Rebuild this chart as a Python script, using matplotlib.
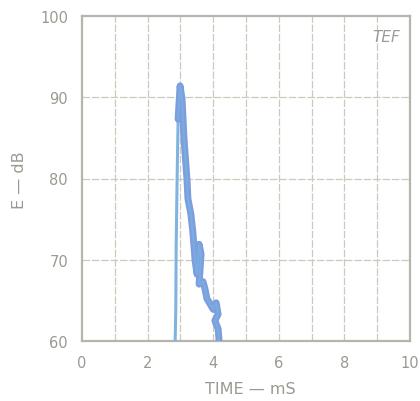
import matplotlib
matplotlib.use("Agg")
import matplotlib.pyplot as plt
import numpy as np

# Energy-time curve
time_ms = [2.84, 2.86, 2.87, 2.90, 2.93, 2.99, 3.05, 3.11, 3.20, 3.23, 3.32, 3.38, 3.45,
           3.51, 3.57, 3.63, 3.57, 3.69, 3.75, 3.81, 3.90, 4.00, 4.09, 4.15, 4.05, 4.15, 4.18]
energy_db = [60.0, 64.0, 71.3, 80.0, 87.3, 91.4, 89.8, 84.9, 79.9, 77.5, 75.6, 73.4, 69.8,
             68.2, 71.9, 70.7, 67.0, 67.3, 66.4, 65.2, 64.6, 63.9, 64.7, 63.3, 62.5, 61.5, 60.0]

x_ticks = [0, 2, 4, 6, 8, 10]
y_ticks = [60, 70, 80, 90, 100]

txt = "#9a9a92"
fig = plt.figure(figsize=(4.2, 4.02), dpi=100)
ax = fig.add_axes([82/420, 1-342/402, (410-82)/420, (342-17)/402])
ax.set_xlim(0, 10)
ax.set_ylim(60, 100)

# grid every 1 ms and 10 dB
for xv in range(1, 10):
    ax.axvline(xv, color="#c9cbbd", lw=0.9, ls=(0, (6, 1.5)), zorder=1)
for yv in [70, 80, 90]:
    ax.axhline(yv, color="#c9cbbd", lw=0.9, ls=(0, (6, 1.5)), zorder=1)

# rising edge (thin) and decay (thick)
ax.plot(time_ms[:6], energy_db[:6], color="#7fb3e0", lw=2.2, zorder=3, solid_capstyle="round")
ax.plot(time_ms[4:], energy_db[4:], color="#7d9ede", lw=5, zorder=3,
        solid_joinstyle="round", solid_capstyle="round")
ax.plot(time_ms[4:], energy_db[4:], color="#78b6e2", lw=1.5, alpha=0.6, zorder=4,
        solid_joinstyle="round")

ax.set_xticks(x_ticks)
ax.set_yticks(y_ticks)
ax.tick_params(length=0, pad=10, labelsize=10.5, colors=txt)
for s in ax.spines.values():
    s.set_color("#b5b6ab")
    s.set_linewidth(1.6)

fig.text(250/420, 1-390/402, "TIME — mS", color=txt, fontsize=11.5, ha="center", va="center")
fig.text(20/420, 1-180/402, "E — dB", color=txt, fontsize=11.5, ha="center", va="center",
         rotation=90)
ax.text(0.97, 0.96, "TEF", transform=ax.transAxes, ha="right", va="top",
        style="italic", fontsize=11, color="#9c9c9c")

fig.savefig("out.png", dpi=100)
